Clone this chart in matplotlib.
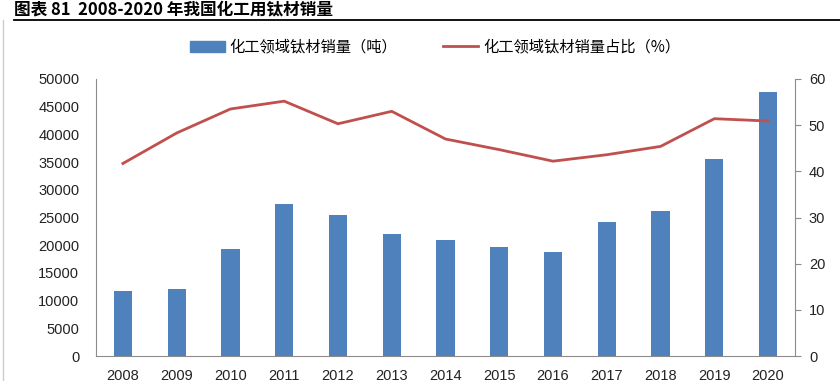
import matplotlib.pyplot as plt
import matplotlib.lines as mlines
import matplotlib.patches as mpatches
import numpy as np

plt.rcParams['font.family'] = ['Liberation Sans', 'Noto Sans CJK SC', 'DejaVu Sans']

# 年份
years = ['2008', '2009', '2010', '2011', '2012', '2013', '2014',
         '2015', '2016', '2017', '2018', '2019', '2020']
# 化工领域钛材销量（吨）
sales = [11800, 12100, 19400, 27400, 25400, 22000, 21000,
         19600, 18700, 24100, 26200, 35500, 47700]
# 化工领域钛材销量占比（%）
share = [41.7, 48.3, 53.5, 55.2, 50.3, 53.0, 47.0,
         44.7, 42.2, 43.6, 45.4, 51.4, 50.9]

bar_color = '#4F81BD'
line_color = '#C0504D'
spine_color = '#8C8C8C'

fig = plt.figure(figsize=(8.4, 3.81), dpi=100)
ax = fig.add_axes([96 / 840, 25 / 381, 699 / 840, 277 / 381])
x = np.arange(len(years))
ax.bar(x, sales, width=0.34, color=bar_color, zorder=2)
ax.set_xlim(-0.5, len(years) - 0.5)
ax.set_ylim(0, 50000)
ax.set_yticks(range(0, 50001, 5000))
ax.set_xticks(x)
ax.set_xticklabels(years)
ax.tick_params(axis='both', length=0, labelsize=10.5, colors='#222222')
ax.tick_params(axis='x', pad=9)
ax.tick_params(axis='y', pad=12)

ax2 = ax.twinx()
ax2.plot(x, share, color=line_color, linewidth=2, zorder=3)
ax2.set_ylim(0, 60)
ax2.set_yticks(range(0, 61, 10))
ax2.tick_params(axis='y', length=4, labelsize=10.5, colors='#222222', pad=6)
ax2.tick_params(axis='y', color=spine_color)

for a in (ax, ax2):
    a.spines['top'].set_visible(False)
    for s in ('left', 'right', 'bottom'):
        a.spines[s].set_color(spine_color)
ax.spines['right'].set_visible(False)
ax2.spines['left'].set_visible(False)
ax2.spines['bottom'].set_visible(False)

# 标题与分隔线
fig.text(14 / 840, 1 - 9 / 381, '图表 81  2008-2020 年我国化工用钛材销量', fontsize=12,
         fontweight='bold', family=['Noto Sans CJK SC'], va='center', ha='left')
fig.add_artist(mlines.Line2D([14 / 840, 1], [1 - 20 / 381, 1 - 20 / 381], color='black', linewidth=1.3))
fig.add_artist(mlines.Line2D([3 / 840, 3 / 840], [0, 1 - 20 / 381], color='#CCCCCC', linewidth=1))

# 图例
bar_h = mpatches.Patch(color=bar_color, label='化工领域钛材销量（吨）')
line_h = mlines.Line2D([], [], color=line_color, linewidth=2, label='化工领域钛材销量占比（%）')
fig.legend(handles=[bar_h, line_h], loc='center', bbox_to_anchor=(0.518, 1 - 47 / 381),
           ncol=2, frameon=False, prop={'family': ['Noto Sans CJK SC'], 'size': 11},
           handlelength=2.3, handletextpad=0.3, columnspacing=3)

fig.savefig('out.png', dpi=100)
